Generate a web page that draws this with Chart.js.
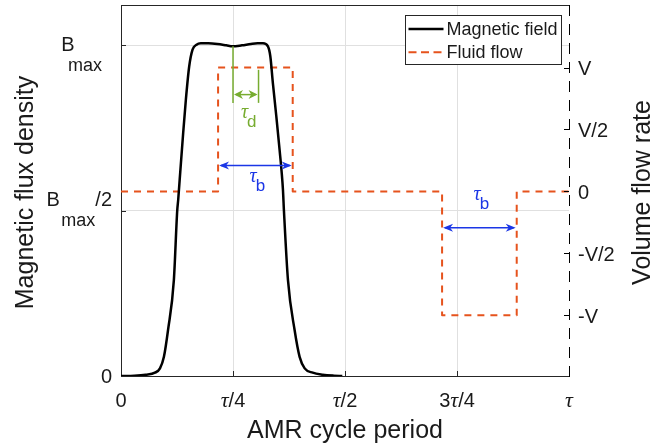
<!DOCTYPE html>
<html><head><meta charset="utf-8">
<script src="https://cdn.jsdelivr.net/npm/chart.js@4.4.0/dist/chart.umd.min.js"></script>
<style>html,body{margin:0;padding:0;background:#fff}canvas{display:block}</style>
</head><body>
<canvas id="c" width="668" height="447"></canvas>
<script>
// ---- data (x in units of the cycle period tau) ----
const fieldX = [0, 0.03, 0.055, 0.0757, 0.087, 0.0958, 0.105, 0.118, 0.1255, 0.1277, 0.131, 0.1388, 0.1448, 0.1522, 0.1597, 0.1686, 0.1782, 0.195, 0.215, 0.235, 0.249, 0.27, 0.29, 0.305, 0.317, 0.328, 0.3333, 0.339, 0.3467, 0.354, 0.3615, 0.3637, 0.3727, 0.3875, 0.3987, 0.41, 0.428, 0.45, 0.475, 0.494];
const fieldY = [0, 0.001, 0.004, 0.010, 0.023, 0.058, 0.139, 0.29, 0.5, 0.533, 0.594, 0.735, 0.836, 0.936, 0.987, 1.002, 1.006, 1.006, 1.004, 1.0, 0.997, 1.0, 1.004, 1.006, 1.006, 0.997, 0.967, 0.886, 0.785, 0.684, 0.563, 0.5, 0.29, 0.139, 0.058, 0.023, 0.01, 0.004, 0.001, 0];
const flowX = [0, 0.2167, 0.2167, 0.3833, 0.3833, 0.7167, 0.7167, 0.8833, 0.8833, 1];
const flowY = [0, 0, 1, 1, 0, 0, -1, -1, 0, 0];
const seriesLabels = ['Magnetic field', 'Fluid flow'];
const xTickValues = [0, 0.25, 0.5, 0.75, 1];
const xTickLabels = ['0', 'τ/4', 'τ/2', '3τ/4', 'τ'];
const leftTickValues = [0, 0.5, 1];
const leftTickLabels = ['0', 'B_max/2', 'B_max'];
const rightTickValues = [1, 0.5, 0, -0.5, -1];
const rightTickLabels = ['V', 'V/2', '0', '-V/2', '-V'];
const xTitle = 'AMR cycle period';
const leftTitle = 'Magnetic flux density';
const rightTitle = 'Volume flow rate';
// annotations: tau_d on the field axis, tau_b on the flow axis
const tauDMarks = [0.25, 0.307];        // x of the two green marker lines
const tauDTops = [0.997, 0.926];        // top of each marker line (field axis)
const tauDBottom = 0.826;
const tauDLevel = 0.851;
const tauBStart = [0.2167, 0.7167];
const tauBEnd = [0.3833, 0.8833];
const tauBLevel = [0.21, -0.293];

const SANS = '"Liberation Sans", Arial, Helvetica, sans-serif';
const SERIF = '"Liberation Serif", "Times New Roman", serif';
const AXIS = '#262626';
const GRID = '#e0e0e0';
const FLOW = '#E6531D';
const GREEN = '#77AC30';
const BLUE = '#1b36e6';
const TXT = '#1a1a1a';

function drawRuns(ctx, parts, x, y, align) {
  let w = 0;
  parts.forEach(p => { ctx.font = p.font; p.w = ctx.measureText(p.text).width; w += p.w + (p.dx || 0); });
  let cx = align === 'center' ? x - w / 2 : align === 'right' ? x - w : x;
  ctx.textAlign = 'left';
  parts.forEach(p => { ctx.font = p.font; ctx.fillText(p.text, cx, y + (p.dy || 0)); cx += p.w + (p.dx || 0); });
}
function tauParts(label, size) {
  return label.split(/(τ)/).filter(s => s).map(s => ({ text: s, font: (s === 'τ' ? 'italic ' + (size + 2) + 'px ' + SERIF : size + 'px ' + SANS) }));
}
function seg(ctx, x1, y1, x2, y2) { ctx.beginPath(); ctx.moveTo(x1, y1); ctx.lineTo(x2, y2); ctx.stroke(); }
function dblArrow(ctx, x1, x2, y, color, hl, hw) {
  ctx.strokeStyle = color; ctx.fillStyle = color; ctx.lineWidth = 1.5;
  seg(ctx, x1 + 2, y, x2 - 2, y);
  ctx.beginPath(); ctx.moveTo(x1, y); ctx.lineTo(x1 + hl, y - hw); ctx.lineTo(x1 + hl * 0.7, y); ctx.lineTo(x1 + hl, y + hw); ctx.closePath(); ctx.fill();
  ctx.beginPath(); ctx.moveTo(x2, y); ctx.lineTo(x2 - hl, y - hw); ctx.lineTo(x2 - hl * 0.7, y); ctx.lineTo(x2 - hl, y + hw); ctx.closePath(); ctx.fill();
}
function subLabel(ctx, text, x, y, color, mainSize, subSize, subDy) {
  const [main, sub] = text.split('_');
  ctx.fillStyle = color;
  drawRuns(ctx, [
    { text: main, font: 'italic ' + mainSize + 'px ' + SERIF, dx: -1 },
    { text: sub, font: subSize + 'px ' + SANS, dy: subDy }
  ], x, y, 'center');
}

const decor = {
  id: 'decor',
  afterDraw(chart) {
    const ctx = chart.ctx, a = chart.chartArea;
    const X = chart.scales.x, Y = chart.scales.y, Y2 = chart.scales.y2;
    ctx.save();
    // top box line
    ctx.strokeStyle = AXIS; ctx.lineWidth = 1;
    const ty = Math.round(a.top) + 0.5;
    seg(ctx, a.left, ty, a.right, ty);
    // dashed right axis line
    ctx.strokeStyle = '#000'; ctx.setLineDash([11, 8]);
    const rx = Math.round(a.right) + 0.5;
    seg(ctx, rx, a.top, rx, a.bottom + 1);
    ctx.setLineDash([]);
    // inward tick marks
    ctx.strokeStyle = AXIS;
    xTickValues.forEach(v => {
      if (v <= 0 || v >= 1) return;
      const px = Math.round(X.getPixelForValue(v)) + 0.5;
      seg(ctx, px, a.bottom, px, a.bottom - 5);
    });
    leftTickValues.forEach(v => {
      if (v <= 0) return;
      const py = Math.round(Y.getPixelForValue(v)) + 0.5;
      seg(ctx, a.left, py, a.left + 5, py);
    });
    ctx.strokeStyle = '#000';
    rightTickValues.forEach(v => {
      const py = Math.round(Y2.getPixelForValue(v)) + 0.5;
      seg(ctx, a.right - 5, py, a.right, py);
    });

    // x tick labels
    ctx.fillStyle = TXT; ctx.textBaseline = 'alphabetic';
    xTickValues.forEach((v, i) => {
      drawRuns(ctx, tauParts(xTickLabels[i], 20), X.getPixelForValue(v), a.bottom + 31, 'center');
    });
    // left tick labels
    leftTickValues.forEach((v, i) => {
      const py = Y.getPixelForValue(v);
      const lab = leftTickLabels[i];
      if (lab.indexOf('_') < 0) {
        ctx.font = '20px ' + SANS; ctx.textAlign = 'right';
        ctx.fillText(lab, a.left - 9, py + 7);
        return;
      }
      const m = lab.match(/^([^_]+)_([a-z]+)(.*)$/);
      const base = lab.length > 5 ? py - 5 : py + 6;
      const shift = lab.length > 5 ? 1.5 : -6.5;
      const right = lab.length > 5 ? a.left - 9 : a.left - 19;
      const parts = [
        { text: m[1], font: '20px ' + SANS, dx: shift },
        { text: m[2], font: '18px ' + SANS, dy: 20 },
        { text: m[3], font: '20px ' + SANS }
      ];
      drawRuns(ctx, parts, right, base, 'right');
    });
    // right tick labels
    ctx.font = '20px ' + SANS; ctx.textAlign = 'left'; ctx.textBaseline = 'middle';
    rightTickValues.forEach((v, i) => {
      ctx.fillText(rightTickLabels[i], a.right + 9, Y2.getPixelForValue(v) + 2);
    });
    // axis titles
    ctx.textBaseline = 'alphabetic'; ctx.textAlign = 'center';
    ctx.font = '25px ' + SANS;
    ctx.fillText(xTitle, (a.left + a.right) / 2, 438);
    ctx.save(); ctx.translate(33, (a.top + a.bottom) / 2 + 2); ctx.rotate(-Math.PI / 2);
    ctx.fillText(leftTitle, 0, 0); ctx.restore();
    ctx.save(); ctx.translate(650, (a.top + a.bottom) / 2 + 2); ctx.rotate(-Math.PI / 2);
    ctx.fillText(rightTitle, 0, 0); ctx.restore();

    // tau_d annotation
    ctx.strokeStyle = GREEN; ctx.lineWidth = 1.5;
    tauDMarks.forEach((v, i) => {
      const px = X.getPixelForValue(v);
      seg(ctx, px, Y.getPixelForValue(tauDTops[i]), px, Y.getPixelForValue(tauDBottom));
    });
    const dx1 = X.getPixelForValue(tauDMarks[0]), dx2 = X.getPixelForValue(tauDMarks[1]);
    const dy = Y.getPixelForValue(tauDLevel);
    dblArrow(ctx, dx1 + 1, dx2 - 1, dy, GREEN, 9, 4.5);
    subLabel(ctx, 'τ_d', (dx1 + dx2) / 2 + 3, dy + 23, GREEN, 20, 17, 9);
    // tau_b annotations
    tauBStart.forEach((s, i) => {
      const x1 = X.getPixelForValue(s), x2 = X.getPixelForValue(tauBEnd[i]);
      const y = Y2.getPixelForValue(tauBLevel[i]);
      dblArrow(ctx, x1 + 1, x2 - 1, y, BLUE, 10, 4);
      subLabel(ctx, 'τ_b', (x1 + x2) / 2 + 2, i === 0 ? y + 17 : y - 28, BLUE, 20, 17, 9);
    });

    // legend
    ctx.font = '18px ' + SANS;
    const tw = Math.max(...seriesLabels.map(t => ctx.measureText(t).width));
    const bw = Math.round(3 + 35 + 3 + tw + 4), bh = 49;
    const bx = Math.round(a.right - 8 - bw) + 0.5, by = Math.round(a.top + 10) + 0.5;
    ctx.fillStyle = '#fff'; ctx.fillRect(bx, by, bw, bh);
    ctx.strokeStyle = AXIS; ctx.lineWidth = 1; ctx.setLineDash([]);
    ctx.strokeRect(bx, by, bw, bh);
    chart.data.datasets.forEach((ds, i) => {
      const ly = by + 13.5 + i * 23.3;
      ctx.strokeStyle = ds.borderColor; ctx.lineWidth = ds.borderWidth;
      ctx.setLineDash(i === 1 ? [8, 4.5] : []);
      seg(ctx, bx + 3, ly, bx + 38, ly);
      ctx.setLineDash([]);
      ctx.fillStyle = TXT; ctx.textAlign = 'left'; ctx.textBaseline = 'middle';
      ctx.fillText(seriesLabels[i], bx + 41, ly + 1);
    });
    ctx.restore();
  }
};

new Chart(document.getElementById('c'), {
  type: 'line',
  data: {
    datasets: [
      { label: seriesLabels[0], data: fieldX.map((x, i) => ({ x, y: fieldY[i] })), yAxisID: 'y',
        borderColor: '#000', borderWidth: 2.5, pointRadius: 0, cubicInterpolationMode: 'monotone', fill: false },
      { label: seriesLabels[1], data: flowX.map((x, i) => ({ x, y: flowY[i] })), yAxisID: 'y2',
        borderColor: FLOW, borderWidth: 2, borderDash: [7, 6], borderJoinStyle: 'round', pointRadius: 0, tension: 0, fill: false }
    ]
  },
  options: {
    responsive: false, animation: false, devicePixelRatio: 1,
    layout: { padding: { top: 5, left: 0, right: 0, bottom: 0 } },
    plugins: { legend: { display: false }, tooltip: { enabled: false } },
    scales: {
      x: { type: 'linear', min: 0, max: 1,
        afterBuildTicks: s => { s.ticks = xTickValues.filter(v => v > 0 && v < 1).map(v => ({ value: v })); },
        ticks: { display: false }, grid: { color: GRID, drawTicks: false, lineWidth: 1 },
        border: { color: AXIS, width: 1 }, afterFit: s => { s.height = 71; } },
      y: { position: 'left', min: 0, max: 1.122,
        afterBuildTicks: s => { s.ticks = leftTickValues.filter(v => v > 0).map(v => ({ value: v })); },
        ticks: { display: false }, grid: { color: GRID, drawTicks: false, lineWidth: 1 },
        border: { color: AXIS, width: 1 }, afterFit: s => { s.width = 121; } },
      y2: { position: 'right', min: -1.49, max: 1.505,
        ticks: { display: false }, grid: { display: false, drawTicks: false },
        border: { display: false }, afterFit: s => { s.width = 99; } }
    }
  },
  plugins: [decor]
});
</script>
</body></html>
